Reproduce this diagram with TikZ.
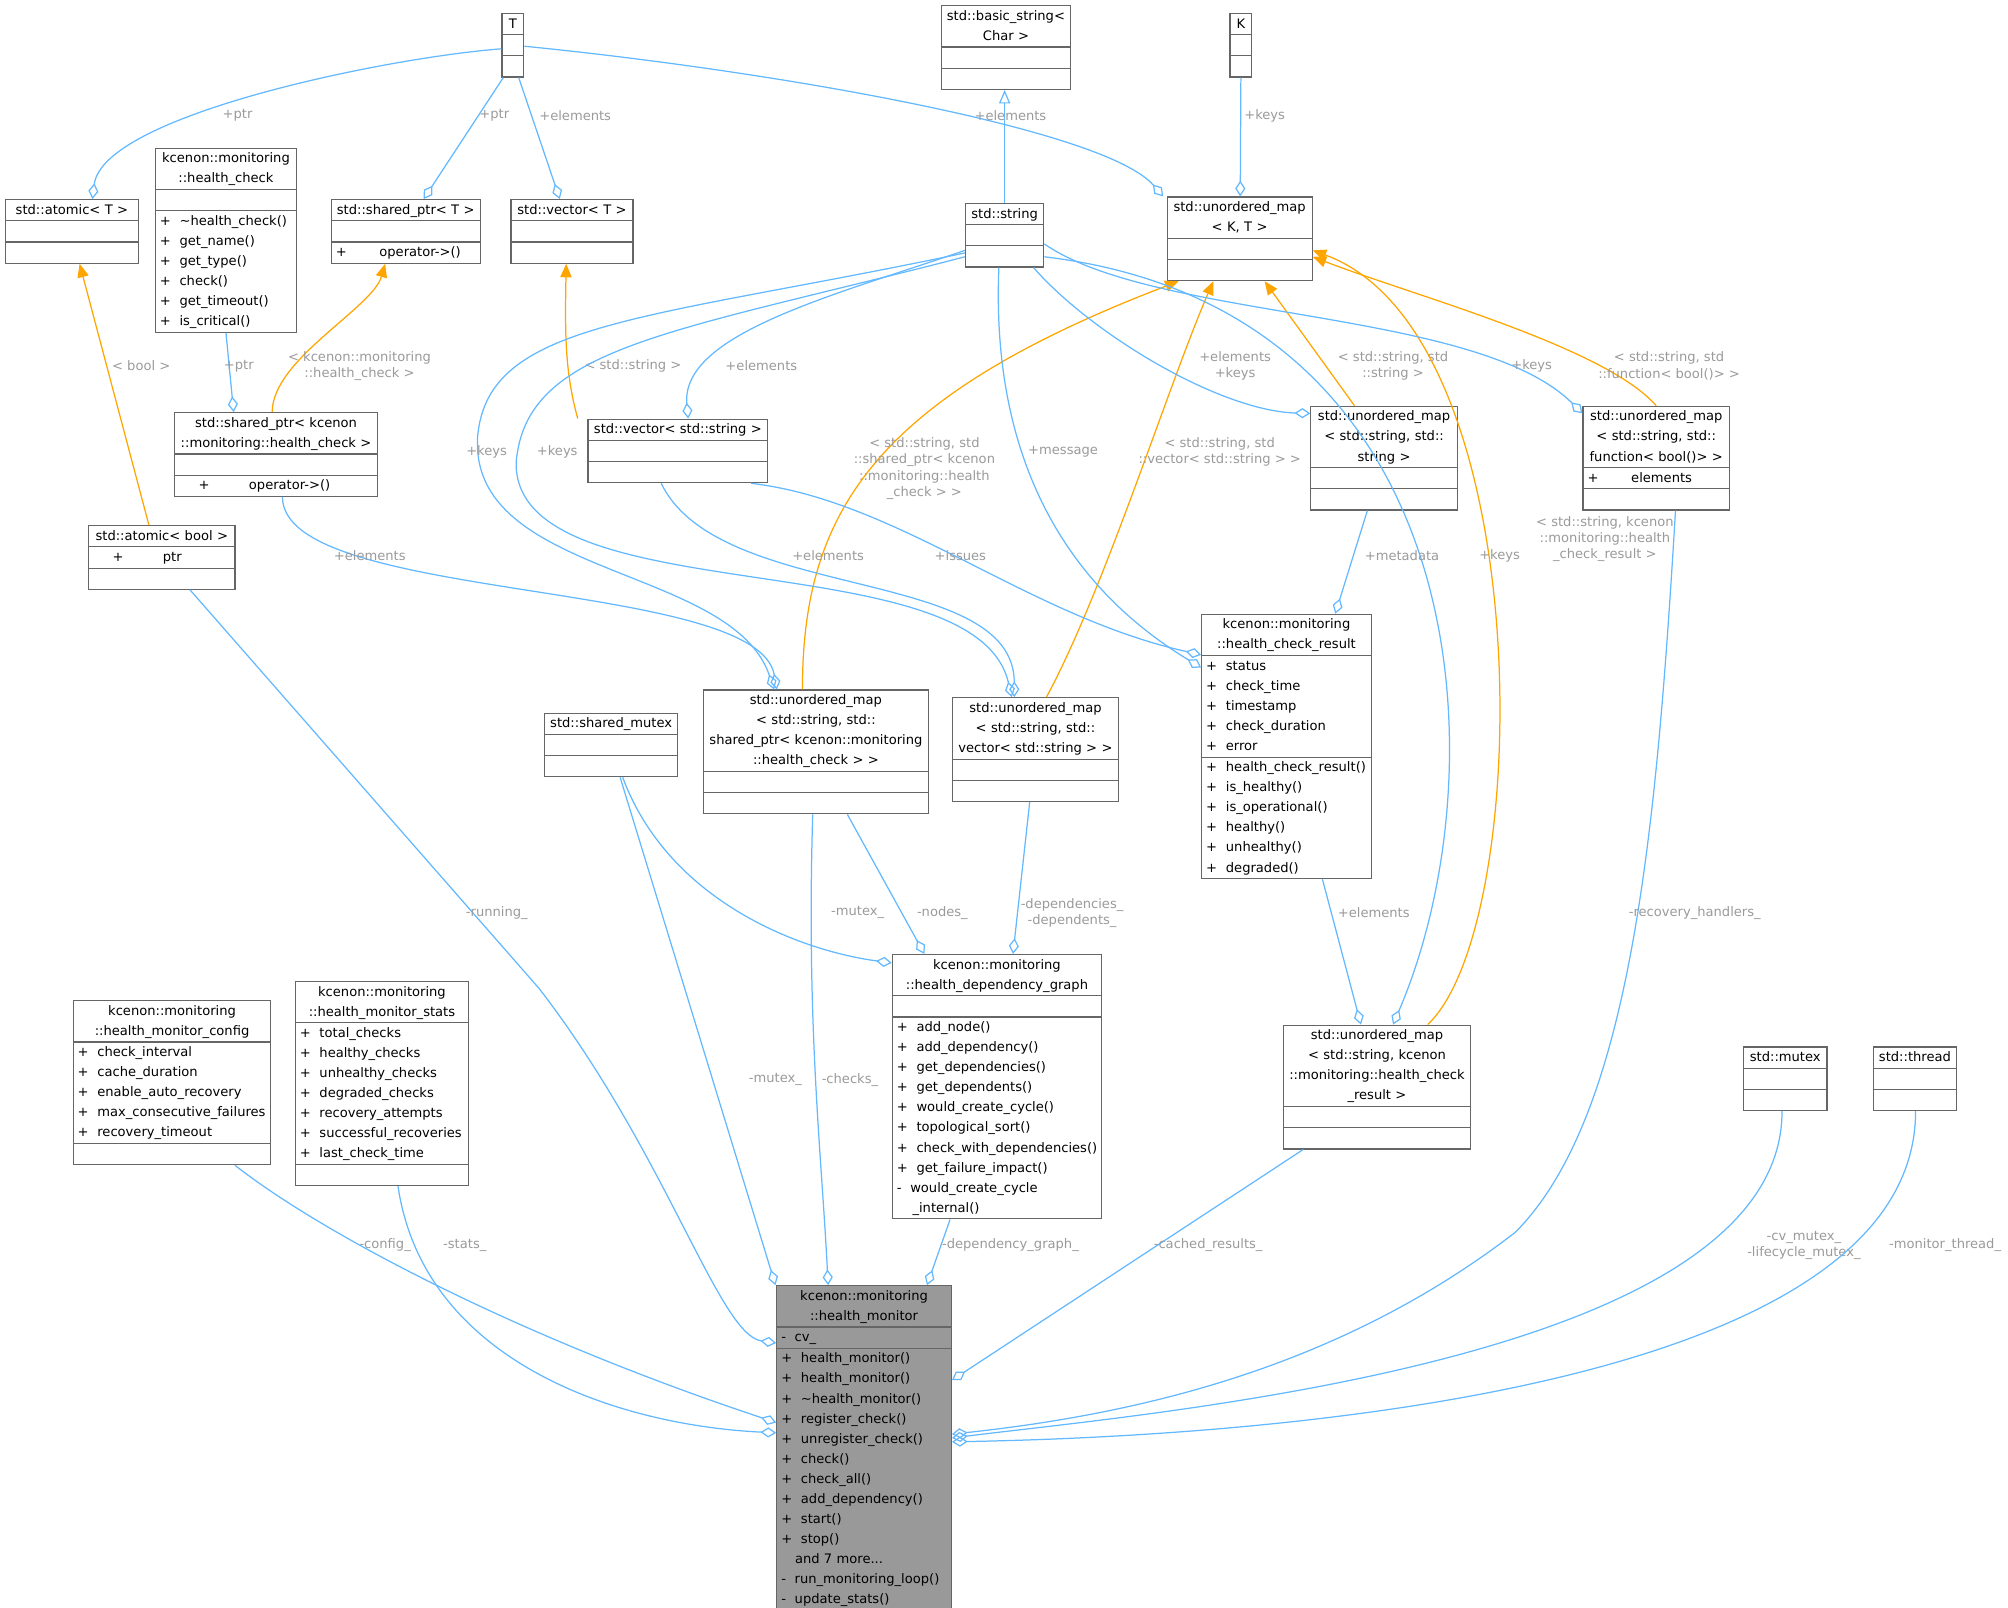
\documentclass[tikz,border=0pt]{standalone}
\usepackage{fontspec}
\setsansfont{DejaVu Sans}
\usetikzlibrary{shapes.multipart,arrows.meta}
\definecolor{edgeblue}{HTML}{63B8FF}
\definecolor{tplorange}{HTML}{FFA500}
\definecolor{lblgrey}{HTML}{9A9A9A}
\definecolor{boxgrey}{HTML}{666666}
\tikzset{
  cls/.style={rectangle split, rectangle split parts=3, draw=boxgrey, line width=0.5pt,
    anchor=north, inner xsep=2pt, inner ysep=0pt, align=left, font=\sffamily\fontsize{5.8}{8.9}\selectfont},
  mem/.style={draw=edgeblue, line width=0.55pt, -{Diamond[open,length=7pt,width=4.5pt]}},
  tpl/.style={draw=tplorange, line width=0.55pt, -{Triangle[length=6pt,width=5pt]}},
  inh/.style={draw=edgeblue, line width=0.55pt, -{Triangle[open,length=6pt,width=5pt]}},
  lbl/.style={text=lblgrey, align=center, inner sep=0pt, font=\sffamily\fontsize{5.8}{7.2}\selectfont}
}
\newcommand\umlbox[7]{\node[cls, text width=\dimexpr 0.02cm*#4-4pt\relax] (#1) at (#2,#3)
  {\centering\strut #5\strut\par\nodepart{second}\raggedright\strut #6\strut\nodepart{third}\raggedright\strut #7\strut};}
\newcommand\pl{+~~}
\newcommand\mi{-~~}
\begin{document}
\begin{tikzpicture}[x=0.02cm,y=-0.02cm]
\useasboundingbox (0,0) rectangle (1564,1252);
% classes
\umlbox{T}{399.5}{10}{17}{T}{}{}
\umlbox{basicstr}{783.5}{4}{101}{std::basic\_string\textless\par Char \textgreater}{}{}
\umlbox{K}{966.5}{10}{17}{K}{}{}
\umlbox{atomicT}{56}{155}{104}{std::atomic\textless{} T \textgreater}{}{}
\umlbox{hc}{176}{115}{110}{kcenon::monitoring\par ::health\_check}{}{\pl\textasciitilde health\_check()\\\pl get\_name()\\\pl get\_type()\\\pl check()\\\pl get\_timeout()\\\pl is\_critical()}
\umlbox{sharedT}{316}{155}{116}{std::shared\_ptr\textless{} T \textgreater}{}{+\hspace{2.5em}operator->()}
\umlbox{vectorT}{445.5}{155}{95}{std::vector\textless{} T \textgreater}{}{}
\umlbox{string}{782.5}{158}{61}{std::string}{}{}
\umlbox{umKT}{965.5}{153}{113}{std::unordered\_map\par\textless{} K, T \textgreater}{}{}
\umlbox{spk}{215}{321}{158}{std::shared\_ptr\textless{} kcenon\par ::monitoring::health\_check \textgreater}{}{\hspace{1.5em}+\hspace{3em}operator->()}
\umlbox{vecstr}{528}{326}{140}{std::vector\textless{} std::string \textgreater}{}{}
\umlbox{umss}{1078}{316}{114}{std::unordered\_map\par\textless{} std::string, std::\par string \textgreater}{}{}
\umlbox{umfunc}{1290}{316}{114}{std::unordered\_map\par\textless{} std::string, std::\par function\textless{} bool()\textgreater{} \textgreater}{+\hspace{2.5em}elements}{}
\umlbox{atomicbool}{126}{409}{114}{std::atomic\textless{} bool \textgreater}{\hspace{1.5em}+\hspace{3em}ptr}{}
\umlbox{hcr}{1002}{478}{132}{kcenon::monitoring\par ::health\_check\_result}{\pl status\\\pl check\_time\\\pl timestamp\\\pl check\_duration\\\pl error}{\pl health\_check\_result()\\\pl is\_healthy()\\\pl is\_operational()\\\pl healthy()\\\pl unhealthy()\\\pl degraded()}
\umlbox{shmutex}{476}{555}{104}{std::shared\_mutex}{}{}
\umlbox{umsp}{635.5}{537}{175}{std::unordered\_map\par\textless{} std::string, std::\par shared\_ptr\textless{} kcenon::monitoring\par ::health\_check \textgreater{} \textgreater}{}{}
\umlbox{umvec}{806.5}{543}{129}{std::unordered\_map\par\textless{} std::string, std::\par vector\textless{} std::string \textgreater{} \textgreater}{}{}
\umlbox{depgraph}{776.5}{743}{163}{kcenon::monitoring\par ::health\_dependency\_graph}{}{\pl add\_node()\\\pl add\_dependency()\\\pl get\_dependencies()\\\pl get\_dependents()\\\pl would\_create\_cycle()\\\pl topological\_sort()\\\pl check\_with\_dependencies()\\\pl get\_failure\_impact()\\\mi would\_create\_cycle\\\hspace{1.2em}\_internal()}
\umlbox{umhcr}{1072.5}{798}{145}{std::unordered\_map\par\textless{} std::string, kcenon\par ::monitoring::health\_check\par\_result \textgreater}{}{}
\umlbox{config}{134}{779}{154}{kcenon::monitoring\par ::health\_monitor\_config}{\pl check\_interval\\\pl cache\_duration\\\pl enable\_auto\_recovery\\\pl max\_consecutive\_failures\\\pl recovery\_timeout}{}
\umlbox{stats}{297.5}{764}{135}{kcenon::monitoring\par ::health\_monitor\_stats}{\pl total\_checks\\\pl healthy\_checks\\\pl unhealthy\_checks\\\pl degraded\_checks\\\pl recovery\_attempts\\\pl successful\_recoveries\\\pl last\_check\_time}{}
\umlbox{mutex}{1390.5}{815}{65}{std::mutex}{}{}
\umlbox{thread}{1491.5}{815}{65}{std::thread}{}{}
\node[cls, fill=black!40, text width=\dimexpr 0.02cm*136-4pt\relax] (monitor) at (673,1001)
  {\centering\strut kcenon::monitoring\par ::health\_monitor\strut\par\nodepart{second}\raggedright\strut\mi cv\_\strut
   \nodepart{third}\raggedright\strut\pl health\_monitor()\\\pl health\_monitor()\\\pl\textasciitilde health\_monitor()\\\pl register\_check()\\\pl unregister\_check()\\\pl check()\\\pl check\_all()\\\pl add\_dependency()\\\pl start()\\\pl stop()\\\hspace{1.05em}and 7 more...\\\mi run\_monitoring\_loop()\\\mi update\_stats()\strut};
% top row
\draw[mem] (T.west |- 0,38) .. controls (300,45) and (80,90) .. (atomicT.north -| 72,0) node[lbl, at={(185,90)}] {+ptr};
\draw[mem] (T.south -| 392,0) -- (sharedT.north -| 330,0) node[lbl, at={(385,90)}] {+ptr};
\draw[mem] (T.south -| 404,0) -- (vectorT.north -| 436,0) node[lbl, at={(448,90)}] {+elements};
\draw[mem] (T.east |- 0,36) .. controls (600,55) and (860,100) .. (umKT.north -| 906,0) node[lbl, at={(787,90)}] {+elements};
\draw[mem] (K.south) -- (umKT.north -| 966,0) node[lbl, at={(985,90)}] {+keys};
\draw[inh] (string.north) -- (basicstr.south -| string.north);
% templates
\draw[mem] (hc.south -| 176,0) -- (spk.north -| 182,0) node[lbl, at={(186,285)}] {+ptr};
\draw[tpl] (spk.north -| 212,0) .. controls (212,280) and (290,240) .. (sharedT.south -| 300,0) node[lbl, at={(280,285)}] {< kcenon::monitoring\\::health\_check >};
\draw[tpl] (vecstr.north -| 450,0) .. controls (440,290) and (440,260) .. (vectorT.south -| 441,0) node[lbl, at={(493,285)}] {< std::string >};
\draw[mem] (string.west |- 0,195) .. controls (650,230) and (530,260) .. (vecstr.north -| 536,0) node[lbl, at={(593,285)}] {+elements};
\draw[tpl] (atomicbool.north -| 116,0) -- (atomicT.south -| 62,0) node[lbl, at={(110,285)}] {< bool >};
\draw[tpl] (umsp.north -| 625,0) .. controls (625,400) and (680,310) .. (umKT.south -| 918,0) node[lbl, at={(720,365)}] {< std::string, std\\::shared\_ptr< kcenon\\::monitoring::health\\\_check > >};
\draw[tpl] (umvec.north -| 815,0) .. controls (860,460) and (910,300) .. (umKT.south -| 945,0) node[lbl, at={(950,352)}] {< std::string, std\\::vector< std::string > >};
\draw[tpl] (umss.north -| 1055,0) -- (umKT.south -| 985,0) node[lbl, at={(1085,285)}] {< std::string, std\\::string >};
\draw[tpl] (umfunc.north -| 1290,0) .. controls (1250,270) and (1100,230) .. (umKT.east |- 0,200) node[lbl, at={(1300,285)}] {< std::string, std\\::function< bool()> >};
\draw[tpl] (umhcr.north -| 1112,0) .. controls (1195,720) and (1200,260) .. (umKT.east |- 0,195) node[lbl, at={(1250,420)}] {< std::string, kcenon\\::monitoring::health\\\_check\_result >};
% string keys
\draw[mem] (string.south -| 805,0) .. controls (850,260) and (950,320) .. (umss.west |- 0,322) node[lbl, at={(962,285)}] {+elements\\+keys};
\draw[mem] (string.east |- 0,190) .. controls (900,250) and (1150,240) .. (umfunc.west |- 0,322) node[lbl, at={(1193,285)}] {+keys};
\draw[mem] (string.east |- 0,200) .. controls (1150,240) and (1170,600) .. (umhcr.north -| 1085,0) node[lbl, at={(1168,433)}] {+keys};
\draw[mem] (string.west |- 0,197) .. controls (500,250) and (380,250) .. (372,340) .. controls (365,450) and (570,440) .. (umsp.north -| 603,0) node[lbl, at={(379,352)}] {+keys};
\draw[mem] (string.west |- 0,200) .. controls (520,260) and (410,270) .. (402,360) .. controls (400,480) and (760,420) .. (umvec.north -| 788,0) node[lbl, at={(434,352)}] {+keys};
\draw[mem] (string.south -| 778,0) .. controls (770,400) and (870,480) .. (hcr.west |- 0,520) node[lbl, at={(828,352)}] {+message};
% elements
\draw[mem] (spk.south -| 220,0) .. controls (220,470) and (590,450) .. (umsp.north -| 605,0) node[lbl, at={(288,433)}] {+elements};
\draw[mem] (vecstr.south -| 515,0) .. controls (560,470) and (790,440) .. (umvec.north -| 790,0) node[lbl, at={(645,433)}] {+elements};
\draw[mem] (vecstr.south -| 585,0) .. controls (700,390) and (800,480) .. (hcr.west |- 0,510) node[lbl, at={(748,433)}] {+issues};
\draw[mem] (umss.south -| 1065,0) -- (hcr.north -| 1040,0) node[lbl, at={(1092,433)}] {+metadata};
\draw[mem] (hcr.south -| 1030,0) -- (umhcr.north -| 1060,0) node[lbl, at={(1070,711)}] {+elements};
% monitor members
\draw[mem] (atomicbool.south -| 148,0) -- (420,770) .. controls (520,900) and (560,1040) .. (monitor.west |- 0,1046) node[lbl, at={(387,711)}] {-running\_};
\draw[mem] (shmutex.south -| 483,0) -- (monitor.north -| 604,0) node[lbl, at={(604,841)}] {-mutex\_};
\draw[mem] (shmutex.south -| 485,0) .. controls (520,700) and (620,740) .. (depgraph.west |- 0,750) node[lbl, at={(668,711)}] {-mutex\_};
\draw[mem] (umsp.south -| 633,0) .. controls (628,800) and (640,900) .. (monitor.north -| 645,0) node[lbl, at={(662,841)}] {-checks\_};
\draw[mem] (umsp.south -| 660,0) -- (depgraph.north -| 720,0) node[lbl, at={(734,711)}] {-nodes\_};
\draw[mem] (umvec.south -| 802,0) -- (depgraph.north -| 789,0) node[lbl, at={(835,711)}] {-dependencies\_\\-dependents\_};
\draw[mem] (depgraph.south -| 740,0) -- (monitor.north -| 722,0) node[lbl, at={(787,970)}] {-dependency\_graph\_};
\draw[mem] (umhcr.south -| 1015,0) -- (monitor.east |- 0,1075) node[lbl, at={(941,970)}] {-cached\_results\_};
\draw[mem] (umfunc.south -| 1305,0) .. controls (1290,650) and (1270,870) .. (1180,960) .. controls (1050,1060) and (900,1100) .. (monitor.east |- 0,1117) node[lbl, at={(1320,711)}] {-recovery\_handlers\_};
\draw[mem] (config.south -| 183,0) .. controls (250,960) and (400,1040) .. (monitor.west |- 0,1108) node[lbl, at={(300,970)}] {-config\_};
\draw[mem] (stats.south -| 310,0) .. controls (330,1060) and (480,1110) .. (monitor.west |- 0,1116) node[lbl, at={(362,970)}] {-stats\_};
\draw[mem] (mutex.south -| 1388,0) .. controls (1388,1060) and (900,1100) .. (monitor.east |- 0,1120) node[lbl, at={(1405,970)}] {-cv\_mutex\_\\-lifecycle\_mutex\_};
\draw[mem] (thread.south -| 1492,0) .. controls (1492,1100) and (900,1120) .. (monitor.east |- 0,1123) node[lbl, at={(1515,970)}] {-monitor\_thread\_};
\end{tikzpicture}
\end{document}
